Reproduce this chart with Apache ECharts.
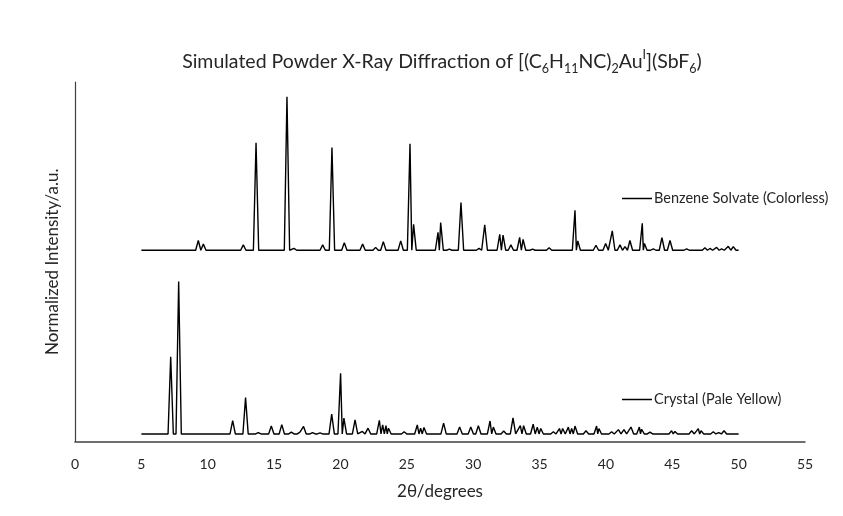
<!DOCTYPE html>
<html>
<head>
<meta charset="utf-8">
<script src="https://cdn.jsdelivr.net/npm/echarts@6/dist/echarts.min.js"></script>
<style>
  html, body { margin: 0; padding: 0; background: #fff; }
  #chart { width: 843px; height: 516px; }
</style>
</head>
<body>
<div id="chart"></div>
<script>
// peak positions (2theta) and heights, in a.u. (axis 0..100)
var benzeneName = "Benzene Solvate (Colorless)";
var crystalName = "Crystal (Pale Yellow)";
var benzeneBase = 53.2;
var crystalBase = 2.1;
var traceStart = 5;
var traceEnd = 50;

var benzenePeaks = [
  [9.29, 55.9], [9.67, 54.9], [12.68, 54.7], [13.64, 83.1], [15.97, 95.9], [16.5, 53.7],
  [18.66, 54.7], [19.36, 81.8], [20.29, 55.3], [21.67, 54.9], [22.65, 54.0], [23.23, 55.6],
  [24.54, 55.8], [25.24, 82.8], [25.51, 60.4], [27.35, 58.2], [27.55, 60.9], [28.2, 53.5],
  [29.08, 66.5], [30.44, 53.7], [30.87, 60.3], [32.0, 57.6], [32.25, 57.4], [32.84, 54.7],
  [33.5, 56.8], [33.76, 56.2], [34.47, 53.5], [35.72, 53.9], [37.67, 64.3], [37.88, 55.8],
  [39.25, 54.6], [39.98, 55.1], [40.48, 58.6], [41.06, 54.7], [41.44, 54.2], [41.81, 55.9],
  [42.74, 60.7], [42.9, 55.1], [43.57, 53.6], [44.22, 56.7], [44.83, 55.9], [46.08, 53.6],
  [47.46, 53.9], [47.84, 53.7], [48.34, 54.0], [48.72, 53.6], [49.22, 54.3], [49.6, 54.2]
];

var crystalPeaks = [
  [7.21, 23.6], [7.81, 44.5], [11.88, 5.8], [12.85, 12.2], [13.81, 2.5], [14.79, 4.3],
  [15.58, 4.7], [16.3, 2.6], [16.95, 2.6], [17.22, 4.2], [17.9, 2.5], [18.46, 2.4],
  [19.34, 7.6], [20.01, 19.0], [20.26, 6.5], [21.1, 6.0], [21.65, 2.8], [22.08, 3.7],
  [22.93, 5.9], [23.18, 4.6], [23.43, 4.4], [23.62, 3.7], [24.8, 2.7], [25.79, 4.6],
  [26.04, 3.7], [26.29, 3.9], [27.77, 5.1], [28.98, 4.0], [29.82, 4.0], [30.39, 4.4],
  [31.27, 5.7], [31.52, 4.0], [32.3, 2.9], [33.0, 6.6], [33.55, 4.4], [33.8, 4.4],
  [34.52, 4.8], [34.83, 4.0], [35.09, 3.6], [36.04, 2.7], [36.5, 3.6], [36.74, 3.6],
  [37.17, 4.0], [37.42, 3.6], [37.67, 4.3], [38.5, 3.0], [39.3, 4.3], [39.47, 3.6],
  [40.43, 2.7], [40.94, 3.3], [41.36, 3.3], [41.89, 4.0], [42.52, 4.0], [42.69, 3.4],
  [43.32, 2.6], [44.95, 3.0], [45.2, 2.8], [46.46, 3.0], [46.96, 3.6], [47.17, 3.0],
  [48.09, 2.7], [48.5, 2.5], [48.9, 3.0]
];

var xTicks = [0, 5, 10, 15, 20, 25, 30, 35, 40, 45, 50, 55];

var FONT = "Lato";
var TXT = "#262626";
var peakHalfWidth = 0.2;

// turn a stick list into a line: baseline -> apex -> baseline for each peak
function buildTrace(peaks, base) {
  var pts = [[traceStart, base]];
  for (var i = 0; i < peaks.length; i++) {
    var p = peaks[i];
    var prev = i > 0 ? peaks[i - 1][0] : traceStart;
    var next = i < peaks.length - 1 ? peaks[i + 1][0] : traceEnd;
    var wl = Math.min(peakHalfWidth, (p[0] - prev) / 2);
    var wr = Math.min(peakHalfWidth, (next - p[0]) / 2);
    pts.push([p[0] - wl, base], [p[0], p[1]], [p[0] + wr, base]);
  }
  pts.push([traceEnd, base]);
  return pts;
}

var chart = echarts.init(document.getElementById("chart"), null, { renderer: "canvas" });

var option = {
  backgroundColor: "#fff",
  animation: false,
  title: {
    text: "{t|Simulated Powder X-Ray Diffraction of [(C}{sub|6}{t|H}{sub|11}{t|NC)}{sub|2}{t|Au}{sup|I}{t|](SbF}{sub|6}{t|)}",
    left: 437,
    top: 43,
    textAlign: "center",
    textStyle: {
      fontWeight: "normal",
      rich: {
        t: { fontFamily: FONT, fontSize: 19.5, fontWeight: "normal", color: TXT, lineHeight: 27, verticalAlign: "middle" },
        sub: { fontFamily: FONT, fontSize: 12.5, fontWeight: "normal", color: TXT, lineHeight: 12.5, verticalAlign: "bottom" },
        sup: { fontFamily: FONT, fontSize: 12.5, fontWeight: "normal", color: TXT, lineHeight: 12.5, verticalAlign: "top" }
      }
    }
  },
  legend: [
    {
      data: [benzeneName],
      left: 617,
      top: 186,
      icon: "rect",
      itemWidth: 30,
      itemHeight: 1.5,
      itemGap: 4,
      textStyle: { fontFamily: FONT, fontSize: 14.5, color: TXT, padding: [0, 0, 0, -3] }
    },
    {
      data: [crystalName],
      left: 617,
      top: 387,
      icon: "rect",
      itemWidth: 30,
      itemHeight: 1.5,
      itemGap: 4,
      textStyle: { fontFamily: FONT, fontSize: 14.5, color: TXT, padding: [0, 0, 0, -3] }
    }
  ],
  grid: { left: 75, right: 38, top: 82, bottom: 74.5 },
  xAxis: {
    type: "value",
    min: xTicks[0],
    max: xTicks[xTicks.length - 1],
    interval: 5,
    name: "2θ/degrees",
    nameLocation: "middle",
    nameGap: 42,
    nameTextStyle: { fontFamily: FONT, fontSize: 17, color: TXT },
    axisLine: { lineStyle: { color: "#404040", width: 1.5 } },
    axisTick: { show: false },
    splitLine: { show: false },
    axisLabel: { fontFamily: FONT, fontSize: 14, color: TXT, margin: 16 }
  },
  yAxis: {
    type: "value",
    min: 0,
    max: 100,
    name: "Normalized Intensity/a.u.",
    nameLocation: "middle",
    nameGap: 14,
    nameTextStyle: { fontFamily: FONT, fontSize: 17, color: TXT },
    axisLine: { show: true, lineStyle: { color: "#404040", width: 1.2 } },
    axisTick: { show: false },
    axisLabel: { show: false },
    splitLine: { show: false }
  },
  series: [
    {
      name: benzeneName,
      type: "line",
      data: buildTrace(benzenePeaks, benzeneBase),
      showSymbol: false,
      symbol: "none",
      lineStyle: { color: "#000", width: 1.4 },
      itemStyle: { color: "#000" }
    },
    {
      name: crystalName,
      type: "line",
      data: buildTrace(crystalPeaks, crystalBase),
      showSymbol: false,
      symbol: "none",
      lineStyle: { color: "#000", width: 1.4 },
      itemStyle: { color: "#000" }
    }
  ]
};

chart.setOption(option);
</script>
</body>
</html>
